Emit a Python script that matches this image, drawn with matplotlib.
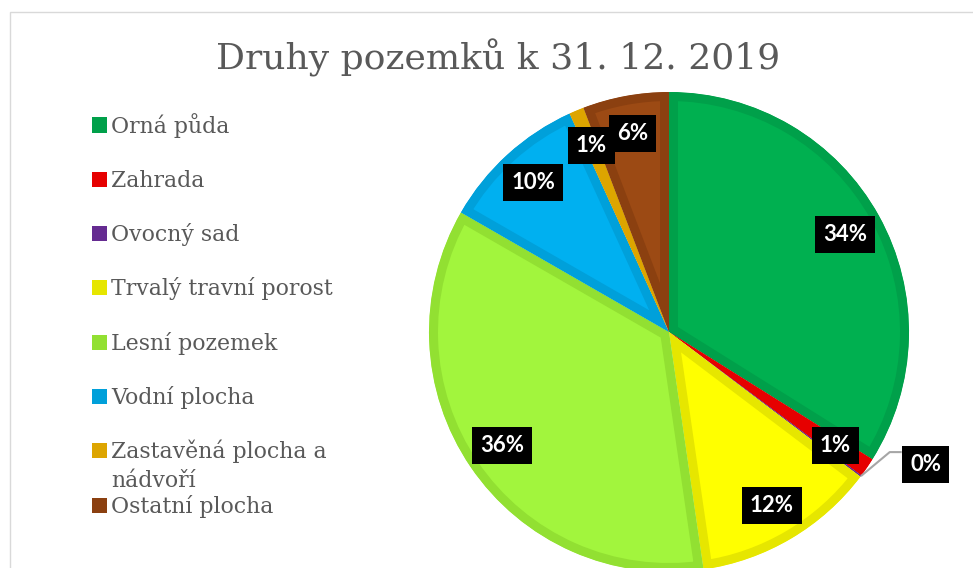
import matplotlib.pyplot as plt
from matplotlib.patches import Rectangle
import numpy as np

# data
categories = ['Orná půda', 'Zahrada', 'Ovocný sad', 'Trvalý travní porost',
              'Lesní pozemek', 'Vodní plocha', 'Zastavěná plocha a\nnádvoří',
              'Ostatní plocha']
shares = [33.9, 1.3, 0.1, 12.4, 35.6, 9.9, 1.0, 5.8]
fill_colors = ['#00B050', '#FF0000', '#7030A0', '#FFFF00',
               '#A2F53D', '#00B0F0', '#E8AE00', '#9C4A14']
edge_colors = ['#00A04A', '#E60000', '#652B91', '#E6E600',
               '#92E032', '#00A0DA', '#DDA500', '#8B4010']
title = 'Druhy pozemků k 31. 12. 2019'

W, H = 973, 568
cx, cy, R = 669, 332, 240   # pie centre / radius in pixels (from top-left)
gray = '#595959'

fig = plt.figure(figsize=(W / 100, H / 100), dpi=100)
ax = fig.add_axes([0, 0, 1, 1])

wedges, _ = ax.pie(shares, colors=fill_colors, startangle=90,
                   counterclock=False, radius=1, center=(0, 0))
ax.set_aspect('auto')
ax.set_xlim(-cx / R, (W - cx) / R)
ax.set_ylim(-(H - cy) / R, cy / R)
ax.axis('off')

# inner border of each slice (stroke clipped to the slice itself)
for w, ec in zip(wedges, edge_colors):
    w.set_edgecolor(ec)
    w.set_linewidth(18 * 0.72)
    w.set_joinstyle('miter')
    w.set_clip_on(True)
    w.set_clip_path(w)

# percentage labels
box = dict(boxstyle='square,pad=0.36', facecolor='black', edgecolor='none')
for v, w in zip(shares, wedges):
    ang = np.deg2rad((w.theta1 + w.theta2) / 2)
    txt = f'{v:.0f}%'
    if v < 0.5:
        rx, ry = np.cos(ang), np.sin(ang)
        lx, ly = rx + 0.27, ry + 0.05
        ax.plot([rx, rx + 0.12, lx - 0.10], [ry, ry + 0.10, ry + 0.10],
                color='#A6A6A6', lw=1.5, solid_capstyle='butt')
    else:
        lx, ly = 0.84 * np.cos(ang), 0.84 * np.sin(ang)
    ax.text(lx, ly, txt, ha='center', va='center', color='white',
            fontsize=16, fontweight='bold', family='Lato', bbox=box)

# title
fig.text(498 / W, 1 - 58 / H, title, ha='center', va='center',
         fontsize=26, family='DejaVu Serif', color=gray)

# legend
row0, row_step, line_h = 125, 54.3, 29
for i, (name, col) in enumerate(zip(categories, edge_colors)):
    yc = row0 + i * row_step
    fig.add_artist(Rectangle((92 / W, 1 - (yc + 7.5) / H), 15 / W, 15 / H,
                             transform=fig.transFigure, facecolor=col,
                             edgecolor='none'))
    for j, line in enumerate(name.split('\n')):
        fig.text(111 / W, 1 - (yc + 7.5 + j * line_h) / H, line, ha='left',
                 va='baseline', fontsize=15.8, family='DejaVu Serif', color=gray)

# chart frame
fig.add_artist(Rectangle((10 / W, -0.1), 1.2, 1.1 - 12 / H,
                         transform=fig.transFigure, fill=False,
                         edgecolor='#D9D9D9', lw=1))

fig.savefig('out.png', dpi=100)
